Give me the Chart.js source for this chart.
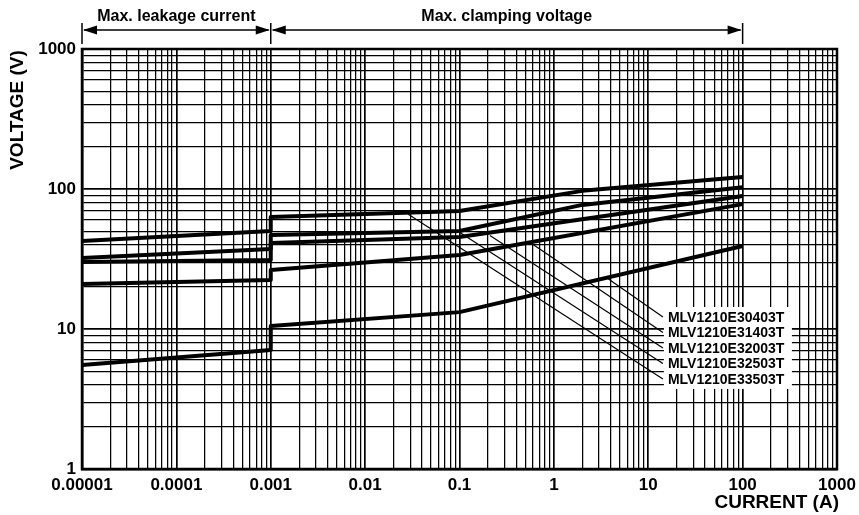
<!DOCTYPE html>
<html><head><meta charset="utf-8">
<script src="https://cdn.jsdelivr.net/npm/chart.js@4.4.1/dist/chart.umd.min.js"></script>
<style>html,body{margin:0;padding:0;background:#fff;}#wrap{width:859px;height:515px;}</style>
</head><body><div id="wrap"><canvas id="c" width="859" height="515"></canvas></div>
<script>
const FONT = '"Liberation Sans", Arial, Helvetica, sans-serif';

// Part numbers (label order, top to bottom in the legend column)
const partNumbers = ['MLV1210E30403T', 'MLV1210E31403T', 'MLV1210E32003T', 'MLV1210E32503T', 'MLV1210E33503T'];

// Current (A) / Voltage (V) points of each curve
const current_33503T = [0.00001, 0.001, 0.001, 0.1, 2, 100];
const voltage_33503T = [42.5, 50.1, 63.1, 69.6, 97, 122];
const current_32503T = [0.00001, 0.001, 0.001, 0.1, 2, 100];
const voltage_32503T = [32.2, 37.3, 46.9, 50.1, 77, 103];
const current_32003T = [0.00001, 0.001, 0.001, 0.1, 100];
const voltage_32003T = [30.1, 31.1, 41.1, 45.4, 89];
const current_31403T = [0.00001, 0.001, 0.001, 0.1, 100];
const voltage_31403T = [21, 22.4, 26.4, 33.8, 78];
const current_30403T = [0.00001, 0.001, 0.001, 0.1, 100];
const voltage_30403T = [5.53, 7.08, 10.5, 13.2, 39.2];

// Leader lines (label order), start on curve, end at label
const leaderStartCurrent = [3.66, 0.56, 0.21, 0.099, 0.0284];
const leaderStartVoltage = [23.1, 41.5, 46.5, 49.3, 66.3];
const leaderEndCurrent = [14.3, 14.3, 14.3, 14.3, 14.3];
const leaderEndVoltage = [12.18, 9.44, 7.32, 5.67, 4.4];

// Axis tick labels (decades)
const xTickValues = [0.00001, 0.0001, 0.001, 0.01, 0.1, 1, 10, 100, 1000];
const xTickLabels = ['0.00001', '0.0001', '0.001', '0.01', '0.1', '1', '10', '100', '1000'];
const yTickValues = [1, 10, 100, 1000];
const yTickLabels = ['1', '10', '100', '1000'];

// Header ranges
const leakageRange = [0.00001, 0.001];
const clampingRange = [0.001, 100];
const leakageTitle = 'Max. leakage current';
const clampingTitle = 'Max. clamping voltage';
const xTitle = 'CURRENT (A)';
const yTitle = 'VOLTAGE (V)';

function pts(xs, ys) { return xs.map((x, i) => ({x: x, y: ys[i]})); }

const curves = [
  pts(current_33503T, voltage_33503T),
  pts(current_32503T, voltage_32503T),
  pts(current_32003T, voltage_32003T),
  pts(current_31403T, voltage_31403T),
  pts(current_30403T, voltage_30403T)
];
const curveNames = ['MLV1210E33503T', 'MLV1210E32503T', 'MLV1210E32003T', 'MLV1210E31403T', 'MLV1210E30403T'];

const datasets = [];
curves.forEach((d, i) => datasets.push({
  label: curveNames[i], data: d, showLine: true, borderColor: '#000', borderWidth: 4,
  pointRadius: 0, fill: false, tension: 0, borderJoinStyle: 'round', borderCapStyle: 'butt'
}));
partNumbers.forEach((n, i) => datasets.push({
  label: n + ' leader',
  data: [{x: leaderStartCurrent[i], y: leaderStartVoltage[i]}, {x: leaderEndCurrent[i], y: leaderEndVoltage[i]}],
  showLine: true, borderColor: '#000', borderWidth: 1.2, pointRadius: 0, fill: false, tension: 0
}));

function logTicks(min, max) {
  const out = [];
  const e0 = Math.round(Math.log10(min)), e1 = Math.round(Math.log10(max));
  for (let e = e0; e < e1; e++) {
    for (let m = 1; m <= 9; m++) out.push({value: m * Math.pow(10, e), major: m === 1});
  }
  out.push({value: max, major: true});
  return out;
}
function labelFor(values, labels, v) {
  for (let i = 0; i < values.length; i++) if (Math.abs(Math.log10(v) - Math.log10(values[i])) < 1e-6) return labels[i];
  return '';
}
const gridWidth = (ctx) => (ctx.tick && ctx.tick.major) ? 1.7 : 1.25;

const decor = {
  id: 'decor',
  beforeDatasetsDraw(chart) {
    const c = chart.ctx, xs = chart.scales.x, ys = chart.scales.y;
    const x0 = xs.getPixelForValue(leaderEndCurrent[0]) + 1;
    const yTop = ys.getPixelForValue(leaderEndVoltage[0]) - 10;
    const yBot = ys.getPixelForValue(leaderEndVoltage[4]) + 10;
    c.save(); c.fillStyle = '#fff'; c.fillRect(x0, yTop, 128, yBot - yTop); c.restore();
  },
  afterDatasetsDraw(chart) {
    const c = chart.ctx, xs = chart.scales.x, ys = chart.scales.y;
    c.save();
    c.fillStyle = '#000'; c.font = 'bold 14px ' + FONT; c.textAlign = 'left'; c.textBaseline = 'middle';
    partNumbers.forEach((n, i) => {
      c.fillText(n, xs.getPixelForValue(leaderEndCurrent[i]) + 5, ys.getPixelForValue(leaderEndVoltage[i]) + 1);
    });
    c.restore();
  },
  afterDraw(chart) {
    const c = chart.ctx, a = chart.chartArea, xs = chart.scales.x;
    c.save();
    c.strokeStyle = '#000'; c.lineWidth = 2.5;
    c.strokeRect(a.left, a.top, a.right - a.left, a.bottom - a.top);
    // header
    const p0 = xs.getPixelForValue(leakageRange[0]);
    const p1 = xs.getPixelForValue(leakageRange[1]);
    const p2 = xs.getPixelForValue(clampingRange[1]);
    const ay = 30;
    c.lineWidth = 1.5;
    [p0, p1, p2].forEach(p => { c.beginPath(); c.moveTo(p, 23); c.lineTo(p, 44); c.stroke(); });
    function arrow(xa, xb) {
      c.beginPath(); c.moveTo(xa + 2, ay); c.lineTo(xb - 2, ay); c.stroke();
      c.beginPath(); c.moveTo(xa + 1, ay); c.lineTo(xa + 15, ay - 4.5); c.lineTo(xa + 15, ay + 4.5); c.closePath(); c.fill();
      c.beginPath(); c.moveTo(xb - 1, ay); c.lineTo(xb - 15, ay - 4.5); c.lineTo(xb - 15, ay + 4.5); c.closePath(); c.fill();
    }
    c.fillStyle = '#000';
    arrow(p0, p1); arrow(p1, p2);
    c.font = 'bold 16px ' + FONT; c.textAlign = 'center'; c.textBaseline = 'middle';
    c.fillText(leakageTitle, (p0 + p1) / 2, 17);
    c.fillText(clampingTitle, (p1 + p2) / 2, 17);
    // axis titles
    c.font = 'bold 19px ' + FONT;
    c.textAlign = 'right'; c.textBaseline = 'middle';
    c.fillText(xTitle, a.right + 2, 503);
    c.translate(18, 110); c.rotate(-Math.PI / 2);
    c.textAlign = 'center';
    c.fillText(yTitle, 0, 0);
    c.restore();
  }
};

new Chart(document.getElementById('c'), {
  type: 'scatter',
  data: {datasets: datasets},
  options: {
    responsive: false, animation: false, devicePixelRatio: 1,
    layout: {padding: {top: 49, right: 22, left: 0, bottom: 0}},
    plugins: {legend: {display: false}, tooltip: {enabled: false}},
    scales: {
      x: {
        type: 'logarithmic', min: 0.00001, max: 1000,
        afterBuildTicks: (s) => { s.ticks = logTicks(0.00001, 1000); },
        afterFit: (s) => { s.height = 46; s.paddingLeft = 0; s.paddingRight = 0; },
        ticks: {autoSkip: false, maxRotation: 0, minRotation: 0, padding: 6, color: '#000',
          font: {family: FONT, size: 17, weight: 'bold'},
          callback: (v) => labelFor(xTickValues, xTickLabels, v)},
        grid: {color: '#000', lineWidth: gridWidth, drawTicks: false},
        border: {display: true, color: '#000', width: 2.5}
      },
      y: {
        type: 'logarithmic', min: 1, max: 1000,
        afterBuildTicks: (s) => { s.ticks = logTicks(1, 1000); },
        afterFit: (s) => { s.width = 82; s.paddingTop = 0; s.paddingBottom = 0; },
        ticks: {autoSkip: false, padding: 6, color: '#000',
          font: {family: FONT, size: 17, weight: 'bold'},
          callback: (v) => labelFor(yTickValues, yTickLabels, v)},
        grid: {color: '#000', lineWidth: gridWidth, drawTicks: false},
        border: {display: true, color: '#000', width: 2.5}
      }
    }
  },
  plugins: [decor]
});
</script></body></html>
